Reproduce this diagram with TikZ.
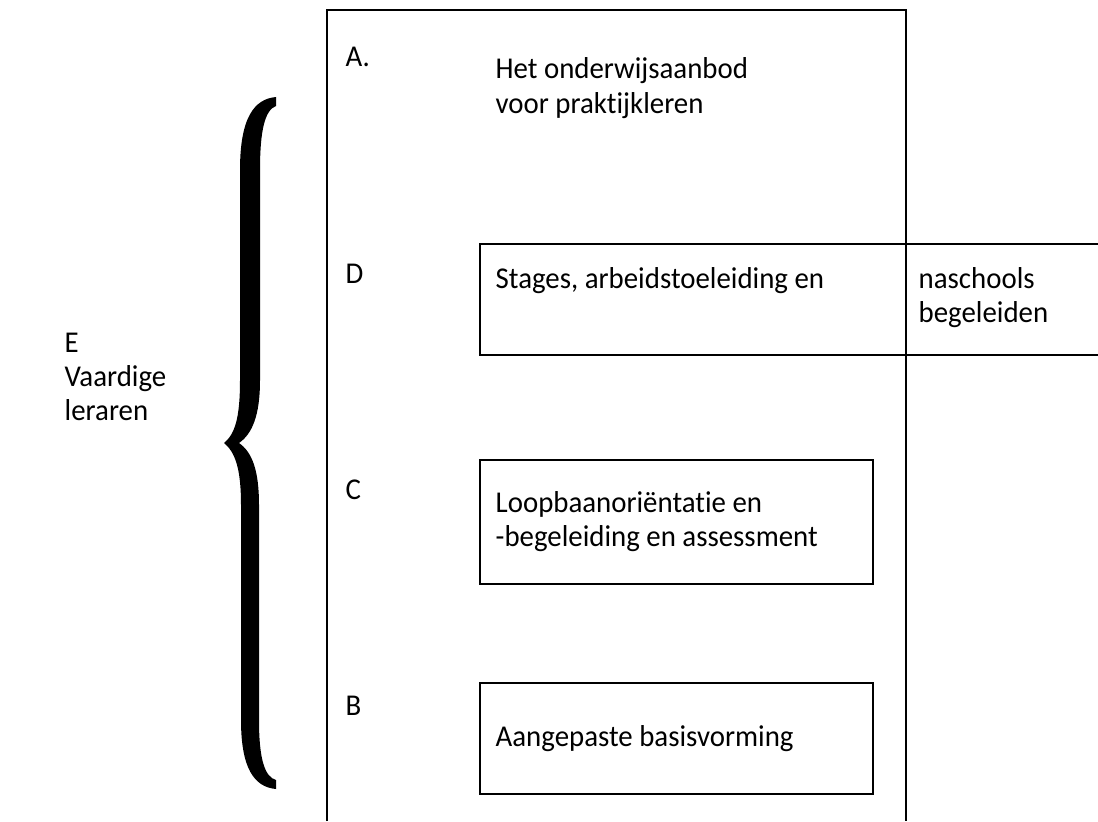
\documentclass[tikz,border=0pt]{standalone}
\usepackage{fontspec}
\setmainfont[Ligatures=NoCommon, FakeStretch=0.955]{Carlito}

\begin{document}
\begin{tikzpicture}[x=0.02cm, y=-0.02cm, line width=0.8pt,
    lbl/.style={anchor=base west, inner sep=0pt, font=\fontsize{17.2}{20}\selectfont}]
    \useasboundingbox (0,0) rectangle (1098,821);
    % Outer frame, open at the bottom
    \draw (327,821) -- (327,10) -- (906,10) -- (906,821);
    % Boxes
    \draw (1098,244) -- (480,244) -- (480,355) -- (1098,355);
    \draw (480,460) rectangle (873,584);
    \draw (480,683) rectangle (873,794);
    % Curly brace
    \fill (276,97) .. controls (254,99) and (240,118) .. (240,170) -- (240,380)
        .. controls (240,418) and (235,434) .. (224,443)
        .. controls (235,452) and (241,468) .. (241,505) -- (241,720)
        .. controls (241,768) and (254,787) .. (276,789) -- (276,780)
        .. controls (265,777) and (259,760) .. (259,720) -- (259,505)
        .. controls (259,470) and (252,452) .. (239,443)
        .. controls (252,434) and (260,416) .. (260,380) -- (260,170)
        .. controls (260,130) and (265,110) .. (276,106) -- cycle;
    % Letters
    \node[lbl] (labA) at (345,67) {A.};
    \node[lbl] (labD) at (345,283) {D};
    \node[lbl] (labC) at (345,499) {C};
    \node[lbl] (labB) at (345,715) {B};
    % Texts
    \node[lbl] (txtA1) at (495,79) {Het onderwijsaanbod};
    \node[lbl] (txtA2) at (495,113) {voor praktijkleren};
    \node[lbl] (txtD) at (495,288) {Stages, arbeidstoeleiding en};
    \node[lbl] (txtN1) at (918,288) {naschools};
    \node[lbl] (txtN2) at (918,322) {begeleiden};
    \node[lbl] (txtC1) at (495,512) {Loopbaanoriëntatie en};
    \node[lbl] (txtC2) at (495,546) {-begeleiding en assessment};
    \node[lbl] (txtB) at (495,746) {Aangepaste basisvorming};
    \node[lbl] (labE) at (64,352) {E};
    \node[lbl] (txtE1) at (64,386) {Vaardige};
    \node[lbl] (txtE2) at (64,420) {leraren};
\end{tikzpicture}
\end{document}
